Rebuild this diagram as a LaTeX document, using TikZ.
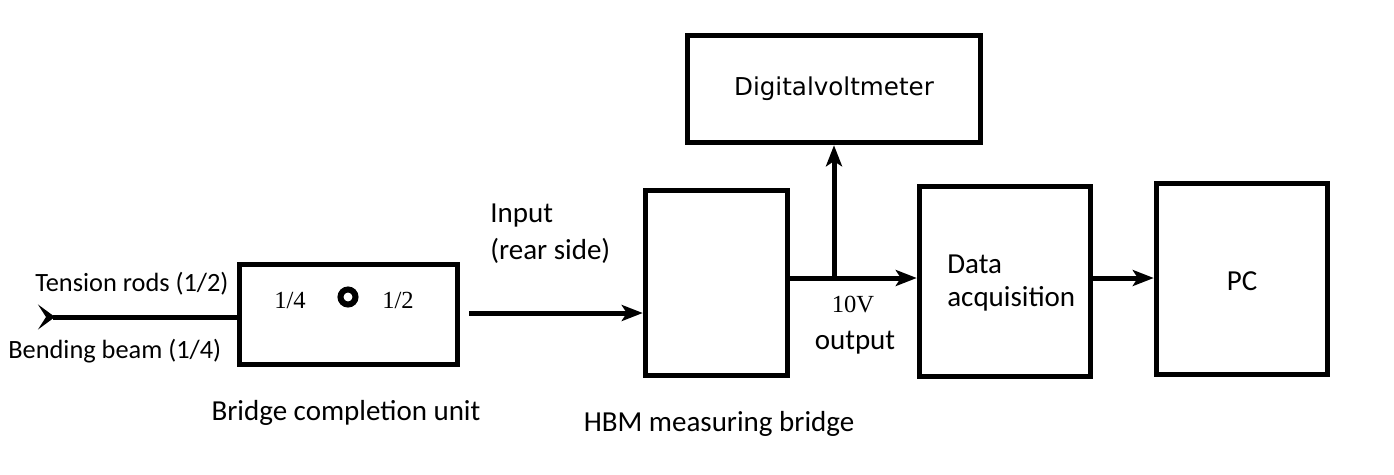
\documentclass[tikz,border=0pt]{standalone}
\usepackage{fontspec}
\usepackage{tikz}
\usetikzlibrary{positioning,arrows.meta}

\newfontfamily\calibfont{Carlito}
\newfontfamily\dejafont{DejaVu Sans}
\newfontfamily\timesfont{Liberation Serif}

\begin{document}
\begin{tikzpicture}[x=0.02cm, y=-0.02cm,
    block/.style={rectangle, draw, line width=0.11cm, inner sep=0pt},
    wire/.style={line width=0.1cm},
    arr/.style={wire, -{Stealth[length=0.42cm, width=0.32cm, inset=0.1cm]}},
    lbl/.style={font=\calibfont\fontsize{16.5}{20}\selectfont, inner sep=0pt},
    sidelbl/.style={font=\calibfont\fontsize{15}{18}\selectfont, inner sep=0pt},
    num/.style={font=\timesfont\fontsize{14}{17}\selectfont, inner sep=0pt}]
    \useasboundingbox (0,0) rectangle (1394,474);

    % blocks
    \node[block, minimum width=4.36cm, minimum height=2.0cm] (bcu) at (348.5,314.5) {};
    \node[block, minimum width=2.84cm, minimum height=3.7cm] (hbm) at (716.5,283) {};
    \node[block, minimum width=3.42cm, minimum height=3.8cm] (daq) at (1005,281.5) {};
    \node[block, minimum width=3.42cm, minimum height=3.82cm] (pc) at (1242,279) {};
    \node[block, minimum width=5.86cm, minimum height=2.14cm,
          font=\dejafont\fontsize{14}{17}\selectfont] (dvm) at (834,89) {Digitalvoltmeter};

    % texts inside the bridge completion unit
    \node[num] (quarter) at (290,300) {1/4};
    \node[circle, draw, line width=0.12cm, minimum size=0.3cm, inner sep=0pt] (selector) at (348,297) {};
    \node[num] (half) at (398,300) {1/2};

    \node[lbl, align=left, anchor=west] (daqtext) at (947,283) {Data\\[-1pt]acquisition};
    \node[lbl] (pctext) at (1242,281) {PC};

    % labels round the blocks
    \node[sidelbl, anchor=west] (rods) at (35,284) {Tension rods (1/2)};
    \node[sidelbl, anchor=west] (beam) at (8,351) {Bending beam (1/4)};
    \node[lbl, align=left, anchor=west] (input) at (490,234) {Input\\[1pt](rear side)};
    \node[num] (volts) at (853,305) {10V};
    \node[lbl] (output) at (855,343) {output};
    \node[lbl] (bcutext) at (346,413) {Bridge completion unit};
    \node[lbl] (hbmtext) at (719,424) {HBM measuring bridge};

    % connectors
    \coordinate (tail) at (38,317);
    \coordinate (split) at (834,278);
    \draw[wire, {Stealth[reversed, length=0.34cm, width=0.5cm, inset=0.16cm]}-] (tail) -- (bcu.west |- tail);
    \draw[arr, shorten <=5pt] (bcu.east |- 0,313) -- (hbm.west |- 0,313);
    \draw[wire] (hbm.east |- split) -- (split);
    \draw[arr] (split) -- (daq.west |- split);
    \draw[arr] (split) -- (dvm.south);
    \draw[arr] (daq.east |- split) -- (pc.west |- split);
\end{tikzpicture}
\end{document}
